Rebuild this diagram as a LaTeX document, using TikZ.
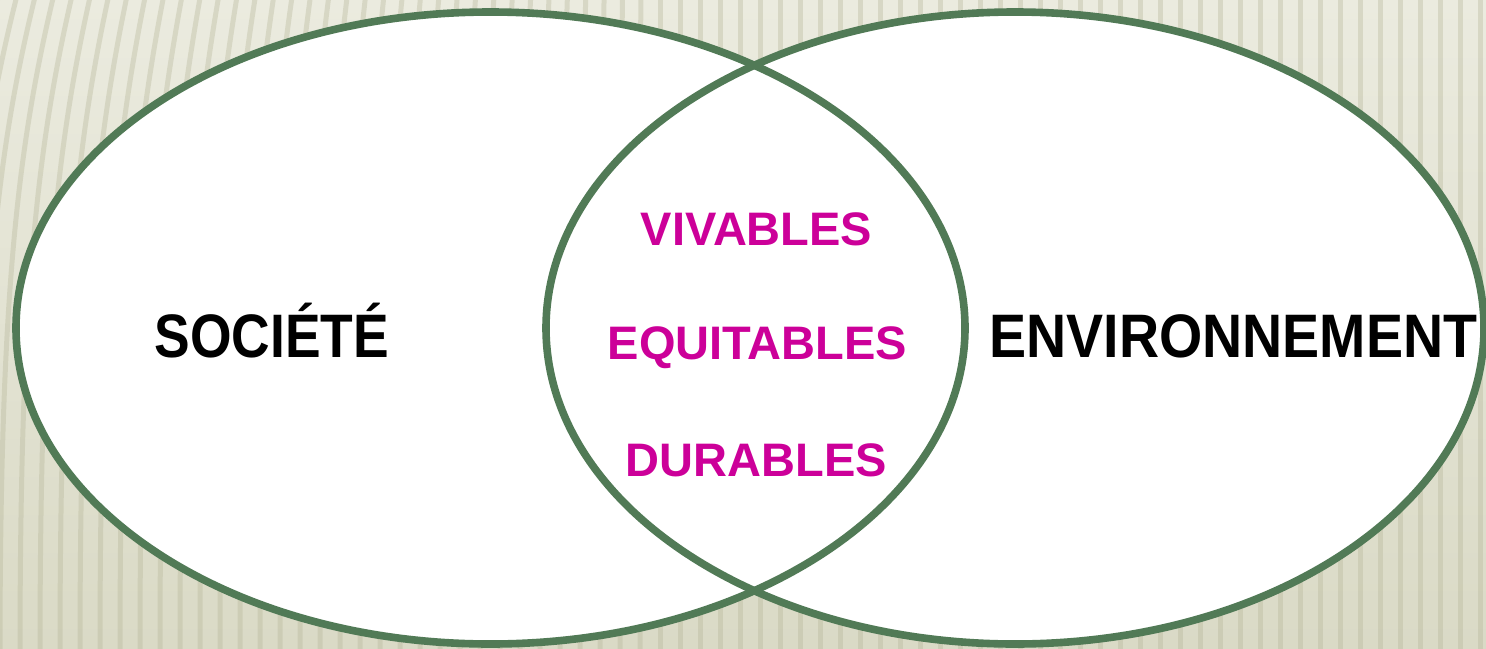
\documentclass[tikz,border=0pt]{standalone}
\usepackage{fontspec}
\setmainfont{Liberation Sans}
\newfontfamily\condfont[FakeStretch=0.87]{Liberation Sans}
\newfontfamily\condfontw[FakeStretch=0.905]{Liberation Sans}
\definecolor{ringgreen}{HTML}{517A56}
\definecolor{magentatxt}{HTML}{CC0099}
\definecolor{bgtop}{HTML}{EBEBDF}
\definecolor{bgbot}{HTML}{DADAC6}
\definecolor{stripecol}{HTML}{B4B496}
\tikzset{
  ring/.style={draw=ringgreen, line width=3.8pt},
  stripeline/.style={draw=stripecol, line width=2.5pt, opacity=0.35},
  maintxt/.style={text=black, anchor=base, inner sep=0pt},
  pinktxt/.style={font=\bfseries\fontsize{23.5}{28}\selectfont, text=magentatxt, anchor=base, inner sep=0pt}
}
\begin{document}
\begin{tikzpicture}[x=0.5pt, y=-0.5pt]
\useasboundingbox (0,0) rectangle (1486,648);
\clip (0,0) rectangle (1486,648);
% background
\shade[top color=bgtop, bottom color=bgbot] (0,0) rectangle (1486,648);
\foreach \x in {-80,-60,...,1540} {
  \pgfmathsetmacro{\s}{max(0,55*(1-\x/650))}
  \draw[stripeline] (\x,660) .. controls (\x,300) and (\x+0.3*\s,150) .. (\x+\s,-10);
}
% ellipses
\fill[white] (490.5,328) ellipse [x radius=237.25pt, y radius=158pt];
\fill[white] (1015,328) ellipse [x radius=234.5pt, y radius=158pt];
\draw[ring] (490.5,328) ellipse [x radius=237.25pt, y radius=158pt];
\draw[ring] (1015,328) ellipse [x radius=234.5pt, y radius=158pt];
% labels
\node[maintxt, font=\condfont\bfseries\fontsize{30.7}{36}\selectfont] (soc) at (272,357) {SOCIÉTÉ};
\node[maintxt, font=\condfontw\bfseries\fontsize{30.7}{36}\selectfont] (env) at (1233.5,357) {ENVIRONNEMENT};
\node[pinktxt] (viv) at (756.5,245) {VIVABLES};
\node[pinktxt] (equ) at (757.5,359) {EQUITABLES};
\node[pinktxt] (dur) at (756.5,476) {DURABLES};
\end{tikzpicture}
\end{document}
